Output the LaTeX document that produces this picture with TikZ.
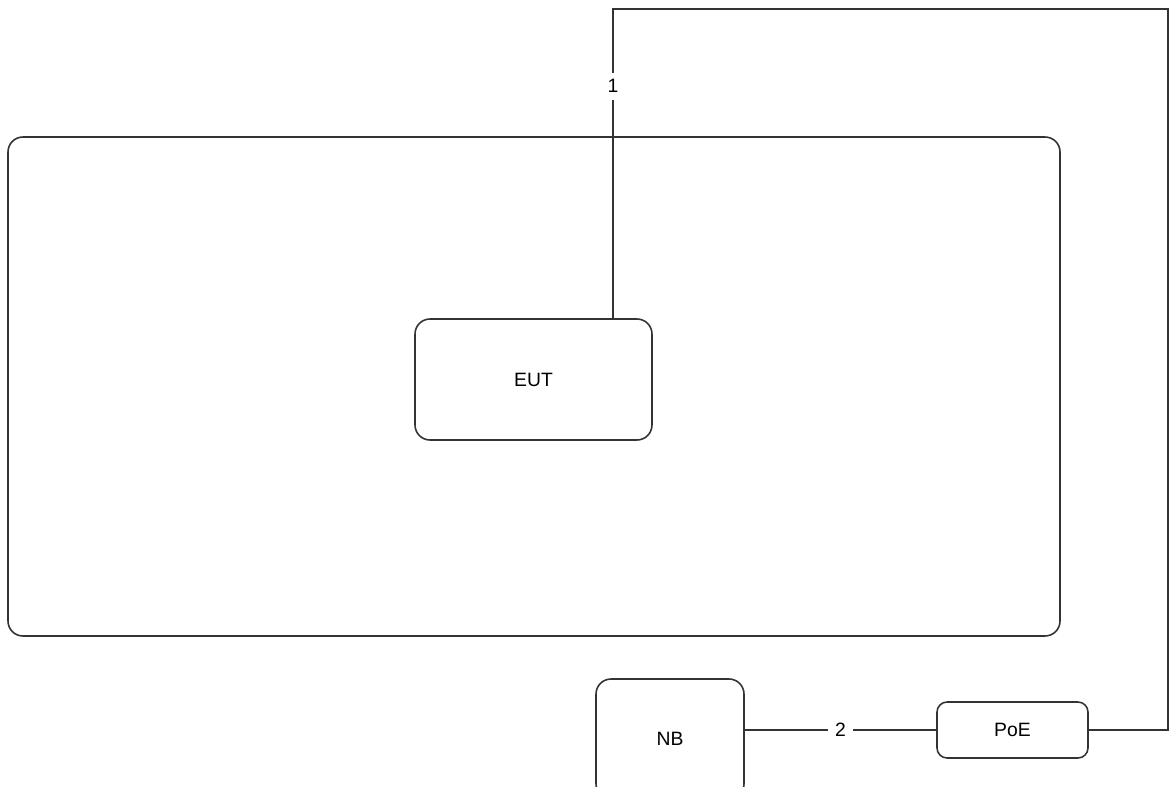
\documentclass[tikz,border=0pt]{standalone}
\usepackage{fontspec}
\setmainfont{Liberation Sans}
\begin{document}
\begin{tikzpicture}[x=0.02cm, y=-0.02cm, line width=0.9pt, draw=black!80,
    box/.style={draw=black!80, rounded corners=0.3cm, font=\fontsize{11}{13}\selectfont, inner sep=0pt},
    lbl/.style={fill=white, font=\fontsize{11}{13}\selectfont, inner sep=4pt}]
    \useasboundingbox (0, 0) rectangle (1170, 787) ;
    \clip (0, 0) rectangle (1170, 787) ;
  %--- Boites
    \draw[rounded corners=0.3cm] (8, 137) rectangle (1060, 636) ;
    \node[box, minimum width=4.74cm, minimum height=2.42cm] (eut) at (533.5, 379.5) {EUT} ;
    \node[box, minimum width=2.96cm, minimum height=2.4cm] (nb) at (670, 739) {NB} ;
    \node[box, rounded corners=0.2cm, minimum width=3.02cm, minimum height=1.12cm] (poe) at (1012.5, 730) {PoE} ;
  %--- Liaisons
    \coordinate (topL) at (613, 9) ;
    \coordinate (topR) at (1168, 9) ;
    \draw (poe.east) -| (topR) -- (topL) -- (topL |- eut.north)
      node[lbl, pos=0.25] {1} ;
    \draw (poe.west -| nb.east) -- (poe.west) node[lbl, midway] {2} ;
\end{tikzpicture}
\end{document}
